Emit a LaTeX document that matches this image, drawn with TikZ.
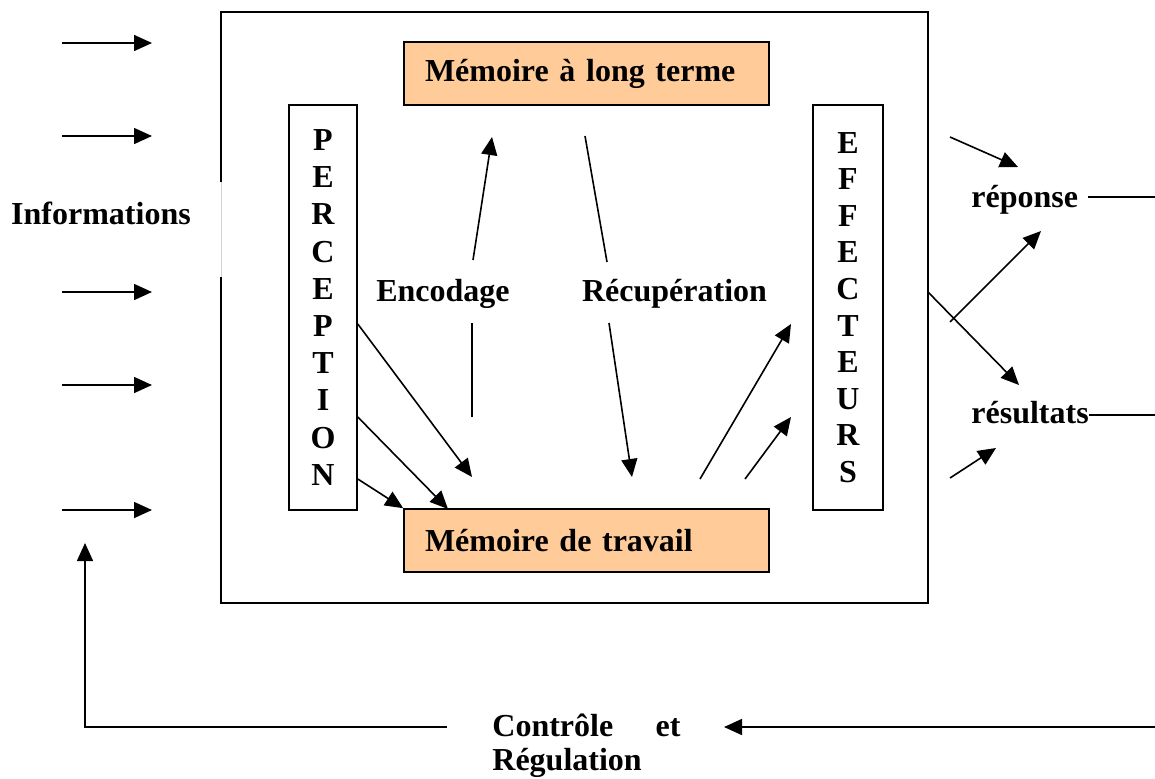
\documentclass[tikz,border=0pt]{standalone}
\usepackage{fontspec}
\setmainfont{Liberation Serif}
\usetikzlibrary
  {
    arrows.meta,  % triangle heads
    positioning,  % place nodes relative to other nodes
    calc,
  }

\definecolor{peach}{HTML}{FFCC99}

\begin{document}
\begin{tikzpicture}[x=0.5pt, y=-0.5pt,
    txt/.style={font=\fontsize{16}{19}\selectfont\bfseries, inner sep=0pt},
    arr/.style={-{Triangle[length=9pt,width=8pt]}, line width=0.8pt},
    ln/.style={line width=0.8pt},
    mem/.style={draw, fill=peach, line width=0.8pt, font=\fontsize{16}{19}\selectfont\bfseries,
      minimum height=31.5pt, text width=161.5pt, inner xsep=10.5pt, align=left},
    column/.style={draw, line width=0.8pt, minimum height=202.5pt, inner sep=0pt, align=center},
  ]
  \useasboundingbox (0,0) rectangle (1155,778);

  % the frame, open where the informations come in
  \draw [line width=1pt] (221,182) -- (221,12) -- (928,12) -- (928,603) -- (221,603) -- (221,277);
  \draw [gray!35, line width=0.5pt] (221,182) -- (221,277);

  \node [mem] (mlt) at (586.5,73.5) {Mémoire à long terme};
  \node [mem] (mdt) at (586.5,540.5) {Mémoire de travail};

  \node [column, minimum width=34pt, font=\fontsize{16}{18.6}\selectfont\bfseries] (percep) at (323,307.5)
    {P\\E\\R\\C\\E\\P\\T\\I\\O\\N};
  \node [column, minimum width=35pt, font=\fontsize{16}{18.3}\selectfont\bfseries] (effect) at (848,307.5)
    {E\\F\\F\\E\\C\\T\\E\\U\\R\\S};

  \node [txt, anchor=base] (info) at (101,224) {Informations};
  \node [txt, anchor=base] (enc) at (443,301) {Encodage};
  \node [txt, anchor=base] (recup) at (674.5,301) {Récupération};
  \node [txt, anchor=base west] (rep) at (971,207) {réponse};
  \node [txt, anchor=base west] (res) at (971,423) {résultats};
  \node [txt, anchor=base west, text width=94pt] (ctrl) at (492,736) {Contrôle\hfill et};
  \node [txt, anchor=base west] (regul) at (492,770) {Régulation};

  % incoming informations
  \foreach \y [count=\i] in {43,136,292,385,510}
    {
      \coordinate (in\i) at (62,\y);
      \coordinate (inT\i) at (152,\y);
      \draw [arr] (in\i) -- (inT\i);
    }

  % perception towards working memory
  \coordinate (P1) at (percep.east |- 0,324);
  \coordinate (P2) at (percep.east |- 0,417);
  \coordinate (P3) at (percep.east |- 0,479);
  \coordinate (W1) at (472,477);
  \coordinate (W2) at (448,509);
  \draw [arr] (P1) -- (W1);
  \draw [arr] (P2) -- (W2);
  \draw [arr] (P3) -- (mdt.north west);

  % encoding, up
  \coordinate (E1) at (472,417);
  \coordinate (E2) at (472,323);
  \coordinate (E3) at (473,260);
  \coordinate (E4) at (492,137);
  \draw [ln] (E1) -- (E2);
  \draw [arr] (E3) -- (E4);

  % retrieval, down
  \coordinate (R1) at (585,136);
  \coordinate (R2) at (607,262);
  \coordinate (R3) at (609,323);
  \coordinate (R4) at (632,477);
  \draw [ln] (R1) -- (R2);
  \draw [arr] (R3) -- (R4);

  % working memory towards effectors
  \coordinate (X1) at (700,479);
  \coordinate (X2) at (745,479);
  \coordinate (F1) at (791,324);
  \coordinate (F2) at (791,417);
  \draw [arr] (X1) -- (F1);
  \draw [arr] (X2) -- (F2);

  % outputs
  \coordinate (O1) at (950,137);
  \coordinate (O2) at (1018,167);
  \coordinate (O3) at (950,322);
  \coordinate (O4) at (1041,231);
  \coordinate (O5) at (928,292);
  \coordinate (O6) at (1019,385);
  \coordinate (O7) at (950,478);
  \coordinate (O8) at (996,448);
  \draw [arr] (O1) -- (O2);
  \draw [arr] (O3) -- (O4);
  \draw [arr] (O5) -- (O6);
  \draw [arr] (O7) -- (O8);

  \coordinate (repR) at (1155,197);
  \coordinate (resR) at (1155,415);
  \draw [ln] (rep.east |- repR) ++(10,0) -- (repR);
  \draw [ln] (res.east |- resR) -- (resR);

  % feedback loop
  \coordinate (fbR) at (1155,727);
  \coordinate (fbTip) at (724,727);
  \coordinate (fbL) at (447,727);
  \coordinate (fbC) at (85,727);
  \coordinate (fbT) at (85,543);
  \draw [arr] (fbR) -- (fbTip);
  \draw [arr] (fbL) -- (fbC) -- (fbT);
\end{tikzpicture}
\end{document}
